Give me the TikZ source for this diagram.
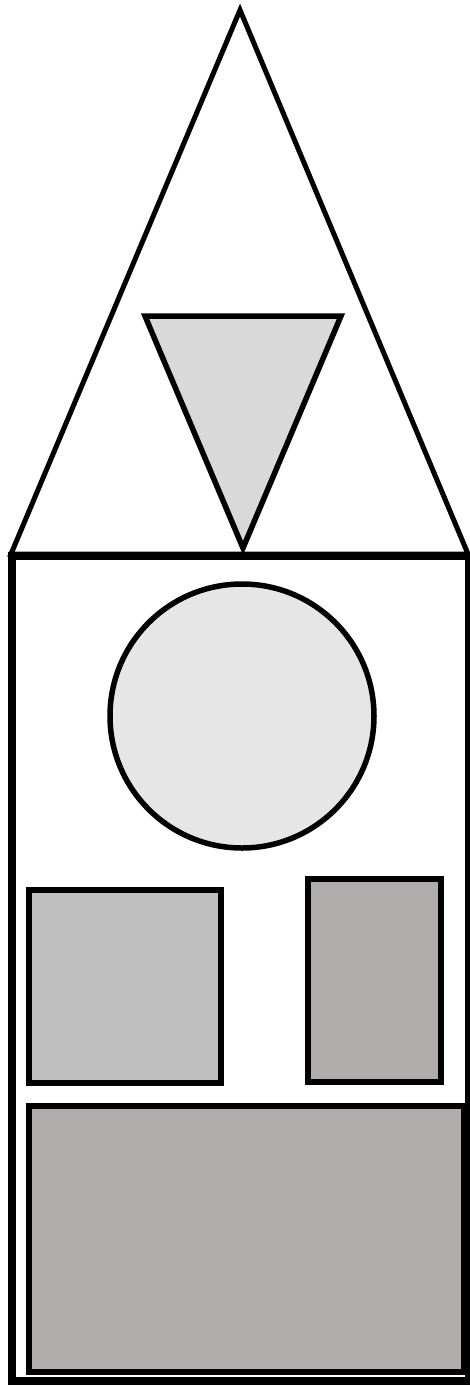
\documentclass[tikz,border=0pt]{standalone}
\definecolor{gA}{HTML}{D9D9D9}
\definecolor{gB}{HTML}{E6E6E6}
\definecolor{gC}{HTML}{BFBFBF}
\definecolor{gD}{HTML}{B0ACAB}
\begin{document}
\begin{tikzpicture}[x=1pt,y=-1pt,line join=miter]
\useasboundingbox (0,0) rectangle (470,1387);
\fill[white] (0,0) rectangle (470,1387);
\coordinate (apex) at (240,10);
\coordinate (bl) at (11,554);
\coordinate (br) at (468,554);
\draw[line width=5pt] (apex) -- (br) -- (bl) -- cycle;
\draw[line width=8pt] (12,556) rectangle (469,1381);
\draw[line width=5.5pt,fill=gA] (145,316) -- (341,316) -- (243,548) -- cycle;
\node[circle,draw,line width=5.5pt,fill=gB,minimum size=264pt,inner sep=0pt] (c) at (242,716) {};
\node[draw,line width=5.5pt,fill=gC,minimum width=192pt,minimum height=193pt,inner sep=0pt] (r1) at (125,986.5) {};
\node[draw,line width=5.5pt,fill=gD,minimum width=133pt,minimum height=203pt,inner sep=0pt] (r2) at (374.5,980.5) {};
\node[draw,line width=6pt,fill=gD,minimum width=435pt,minimum height=266pt,inner sep=0pt] (r3) at (246.5,1239) {};
\end{tikzpicture}
\end{document}
